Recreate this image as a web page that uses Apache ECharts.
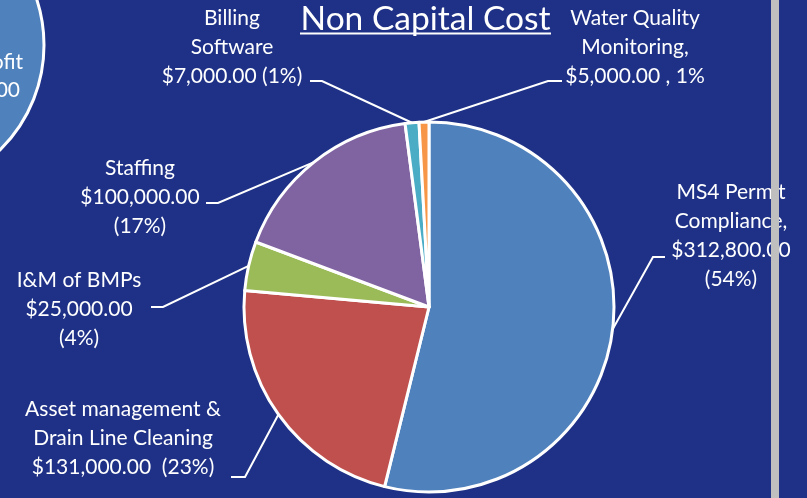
<!DOCTYPE html>
<html>
<head>
<meta charset="utf-8">
<script src="https://cdn.jsdelivr.net/npm/echarts@6/dist/echarts.min.js"></script>
<style>
html, body { margin: 0; padding: 0; background: #1e3186; }
#chart { width: 807px; height: 498px; }
</style>
</head>
<body>
<div id="chart"></div>
<script>
var categories = ['MS4 Permit\nCompliance,', 'Asset management &\nDrain Line Cleaning', 'I&M of BMPs', 'Staffing', 'Billing\nSoftware', 'Water Quality\nMonitoring,'];
var costs = [312800, 131000, 25000, 100000, 7000, 5000];
var sliceColors = ['#4f81bd', '#c0504d', '#9bbb59', '#8064a2', '#4bacc6', '#f79646'];
// how name, value and percent are put together in each label
var labelFormats = ['{n}\n{v}\n({p})', '{n}\n{v}  ({p})', '{n}\n{v}\n({p})', '{n}\n{v}\n({p})', '{n}\n{v} ({p})', '{n}\n{v} , {p}'];

// label placement: text centre x, first line y, y where leader meets text, x where leader meets text, flat part
var labelPos = [
    [731, 192, 257, 665, 12],
    [123, 409, 477, 231, 14],
    [79, 280, 287, 151, 12],
    [140, 168, 203, 206, 12],
    [232, 18, 81, 310, 12],
    [635, 18, 81, 562, 14]
];
var lineH = 29;

function money(v) {
    return '$' + v.toFixed(2).replace(/\B(?=(\d{3})+(?!\d))/g, ',');
}

var pieData = categories.map(function (name, i) {
    return {
        name: name,
        value: costs[i],
        itemStyle: { color: sliceColors[i] },
        labelLine: { length2: labelPos[i][4] }
    };
});

var chart = echarts.init(document.getElementById('chart'));
var option = {
    backgroundColor: '#1e3186',
    animation: false,
    graphic: [
        {
            type: 'circle', z: 1,
            shape: { cx: -103, cy: 45, r: 147 },
            style: { fill: '#4f81bd', stroke: '#fff', lineWidth: 3 }
        },
        {
            type: 'text', z: 2, x: 23, y: 62,
            style: { text: 'Profit', fill: '#fff', fontSize: 21, fontFamily: 'Lato', align: 'right', verticalAlign: 'middle' }
        },
        {
            type: 'text', z: 2, x: 20, y: 90,
            style: { text: '00', fill: '#fff', fontSize: 21, fontFamily: 'Lato', align: 'right', verticalAlign: 'middle' }
        },
        {
            type: 'text', z: 2, x: 425.5, y: 19,
            style: { text: 'Non Capital Cost', fill: '#fff', fontSize: 33.5, fontFamily: 'Lato', align: 'center', verticalAlign: 'middle' }
        },
        {
            type: 'rect', z: 2,
            shape: { x: 300, y: 32.5, width: 251, height: 2 },
            style: { fill: '#fff' }
        },
        {
            type: 'rect', z: 100,
            shape: { x: 771, y: 0, width: 8, height: 498 },
            style: { fill: '#bfbfbf' }
        }
    ],
    series: [{
        type: 'pie',
        center: [429, 307],
        radius: 185,
        startAngle: 90,
        clockwise: true,
        avoidLabelOverlap: false,
        percentPrecision: 0,
        data: pieData,
        itemStyle: { borderColor: '#fff', borderWidth: 3 },
        emphasis: { disabled: true },
        label: {
            show: true,
            position: 'outside',
            color: '#fff',
            fontFamily: 'Lato',
            fontSize: 21,
            lineHeight: lineH,
            overflow: 'none',
            formatter: function (p) {
                return labelFormats[p.dataIndex]
                    .replace('{n}', p.name)
                    .replace('{v}', money(p.value))
                    .replace('{p}', p.percent + '%');
            }
        },
        labelLine: {
            show: true,
            length: 10,
            length2: 12,
            smooth: false,
            lineStyle: { color: '#fff', width: 2 }
        },
        labelLayout: function (params) {
            var p = labelPos[params.dataIndex];
            var top = p[1] - lineH / 2;
            return {
                x: p[0],
                y: top,
                align: 'center',
                verticalAlign: 'top',
                width: Math.abs(p[3] - p[0]) * 2,
                height: (p[2] - top) * 2
            };
        }
    }]
};
chart.setOption(option);
</script>
</body>
</html>
